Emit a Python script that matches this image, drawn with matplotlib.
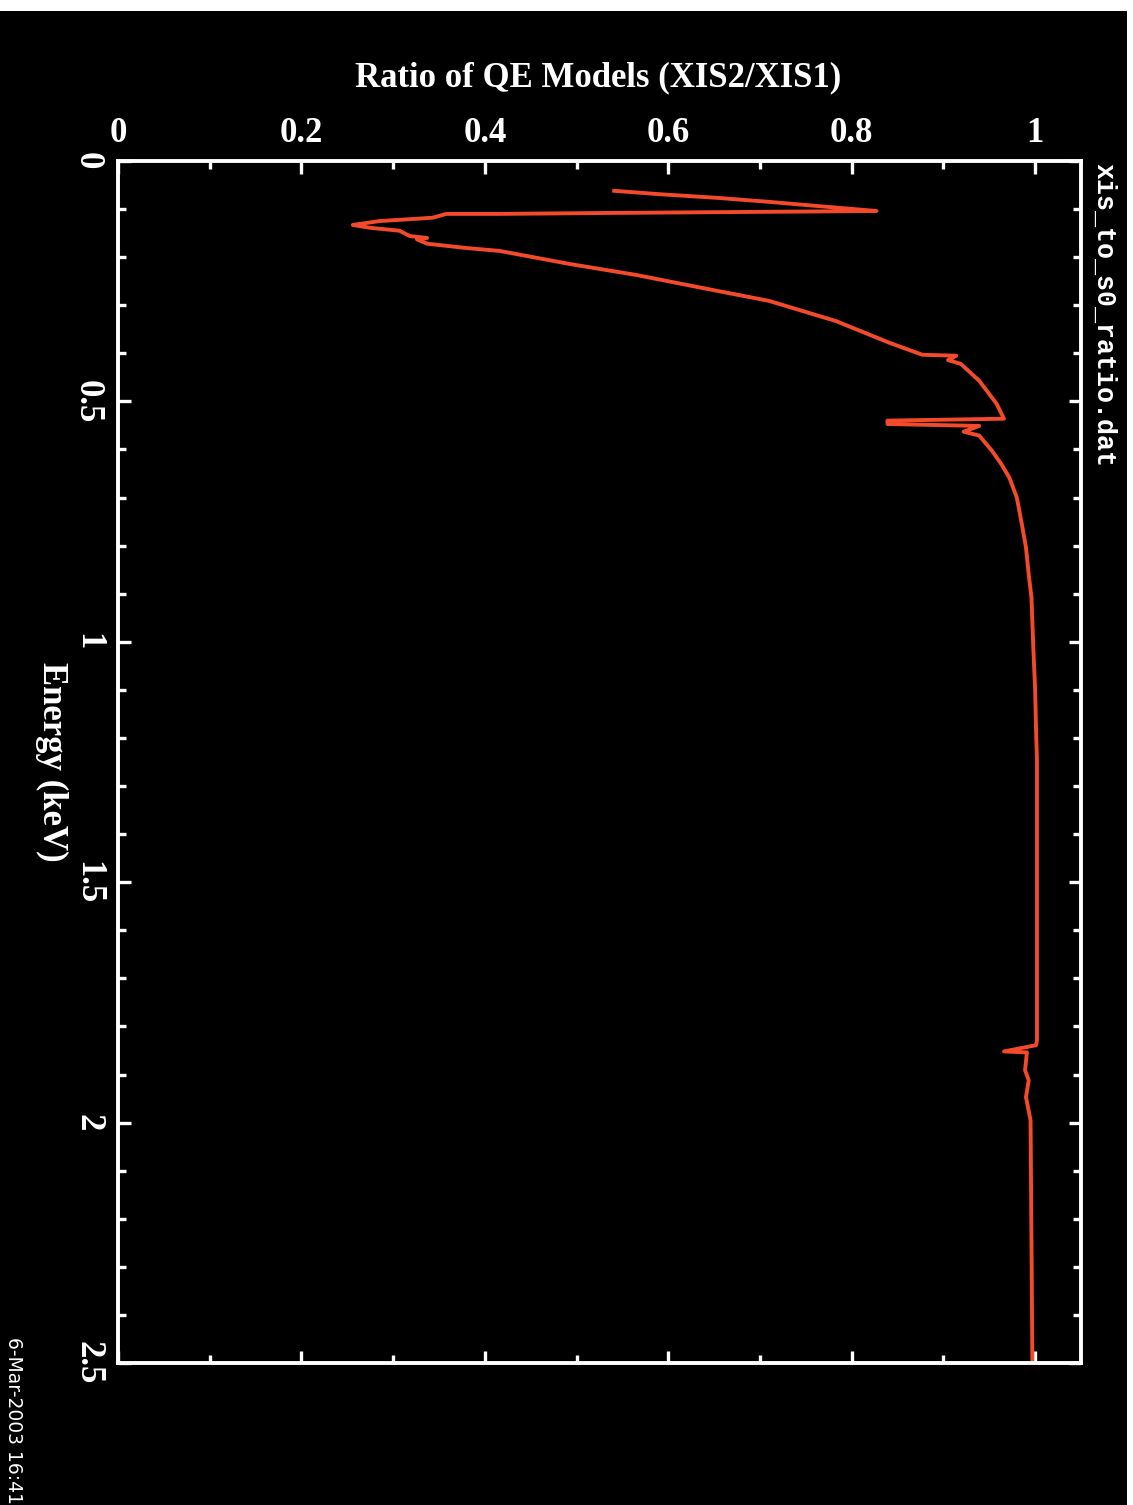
"""Ratio of the XIS2/XIS1 QE models, drawn as the rotated PGPLOT page."""

import matplotlib
matplotlib.use("Agg")
import matplotlib.pyplot as plt
from matplotlib.patches import Rectangle
from matplotlib.ticker import FuncFormatter, MultipleLocator

# Curve: energy (keV) and QE ratio, in drawing order.
energy = [0.062, 0.069, 0.077, 0.085, 0.094, 0.104, 0.108, 0.110, 0.110,
          0.118, 0.125, 0.133, 0.139, 0.145, 0.156, 0.160, 0.163, 0.172,
          0.181, 0.187, 0.214, 0.237, 0.264, 0.291, 0.333, 0.378, 0.403,
          0.405, 0.414, 0.422, 0.457, 0.505, 0.536, 0.540, 0.547, 0.551,
          0.563, 0.571, 0.603, 0.630, 0.659, 0.700, 0.750, 0.804, 0.860,
          0.908, 1.012, 1.100, 1.185, 1.247, 1.538, 1.829, 1.839, 1.852,
          1.854, 1.891, 1.912, 1.947, 1.995, 2.500]
ratio = [0.541, 0.590, 0.656, 0.710, 0.765, 0.827, 0.539, 0.416, 0.358,
         0.343, 0.285, 0.256, 0.275, 0.307, 0.318, 0.337, 0.326, 0.337,
         0.380, 0.416, 0.492, 0.565, 0.637, 0.710, 0.783, 0.841, 0.877,
         0.914, 0.905, 0.919, 0.939, 0.958, 0.966, 0.839, 0.839, 0.939,
         0.922, 0.939, 0.953, 0.963, 0.972, 0.980, 0.985, 0.990, 0.993,
         0.996, 0.998, 1.000, 1.001, 1.002, 1.002, 1.002, 1.001, 0.966,
         0.991, 0.989, 0.993, 0.990, 0.995, 0.997]

title = "Ratio of QE Models (XIS2/XIS1)"
energy_label = "Energy (keV)"
file_label = "xis_to_s0_ratio.dat"
date_label = "6-Mar-2003 16:41"

W, H = 1133, 1505
fig = plt.figure(figsize=(W / 100, H / 100), dpi=100, facecolor="black")

# White margins left by the page rotation.
fig.patches.append(Rectangle((0, 1 - 11 / H), 1, 11 / H, transform=fig.transFigure,
                             facecolor="white", edgecolor="none", zorder=10))
fig.patches.append(Rectangle((1127 / W, 0), 6 / W, 1, transform=fig.transFigure,
                             facecolor="white", edgecolor="none", zorder=10))

ax = fig.add_axes([118 / W, 1 - 1363 / H, (1081 - 118) / W, (1363 - 161) / H])
ax.set_facecolor("black")

ax.plot(ratio, energy, color="#F24A2A", linewidth=2.8)

ax.set_xlim(0, 1.05)
ax.set_ylim(2.5, 0)

for spine in ax.spines.values():
    spine.set_color("white")
    spine.set_linewidth(2.8)

ax.xaxis.set_major_locator(MultipleLocator(0.2))
ax.xaxis.set_minor_locator(MultipleLocator(0.1))
ax.yaxis.set_major_locator(MultipleLocator(0.5))
ax.yaxis.set_minor_locator(MultipleLocator(0.1))
fmt = FuncFormatter(lambda v, pos: "%g" % round(v, 3))
ax.xaxis.set_major_formatter(fmt)
ax.yaxis.set_major_formatter(fmt)

ax.tick_params(which="both", direction="in", colors="white",
               top=True, bottom=True, left=True, right=True,
               labeltop=True, labelbottom=False, labelleft=True, labelright=False)
ax.tick_params(which="major", length=9, width=2.4)
ax.tick_params(which="minor", length=5.5, width=2.4)
ax.tick_params(axis="x", which="major", pad=8)
ax.tick_params(axis="y", which="major", pad=10)

label_font = dict(family="Liberation Serif", weight="bold", size=25, color="white")
for lab in ax.get_xticklabels():
    lab.set(**label_font)
for lab in ax.get_yticklabels():
    lab.set(**label_font)
    lab.set_rotation(270)
    lab.set_verticalalignment("center")

fig.text(598 / W, 1 - 78 / H, title, ha="center", va="center", **label_font)
fig.text(52 / W, 1 - 762 / H, energy_label, ha="center", va="center",
         rotation=270, **label_font)
fig.text(1104 / W, 1 - 163 / H, file_label, ha="center", va="top", rotation=270,
         family="Liberation Mono", weight="bold", size=19.2, color="white")
fig.text(13 / W, 1 - 1337 / H, date_label, ha="center", va="top", rotation=270,
         family="DejaVu Sans", size=13.5, color="white")

fig.savefig("out.png", dpi=100, facecolor="black")
